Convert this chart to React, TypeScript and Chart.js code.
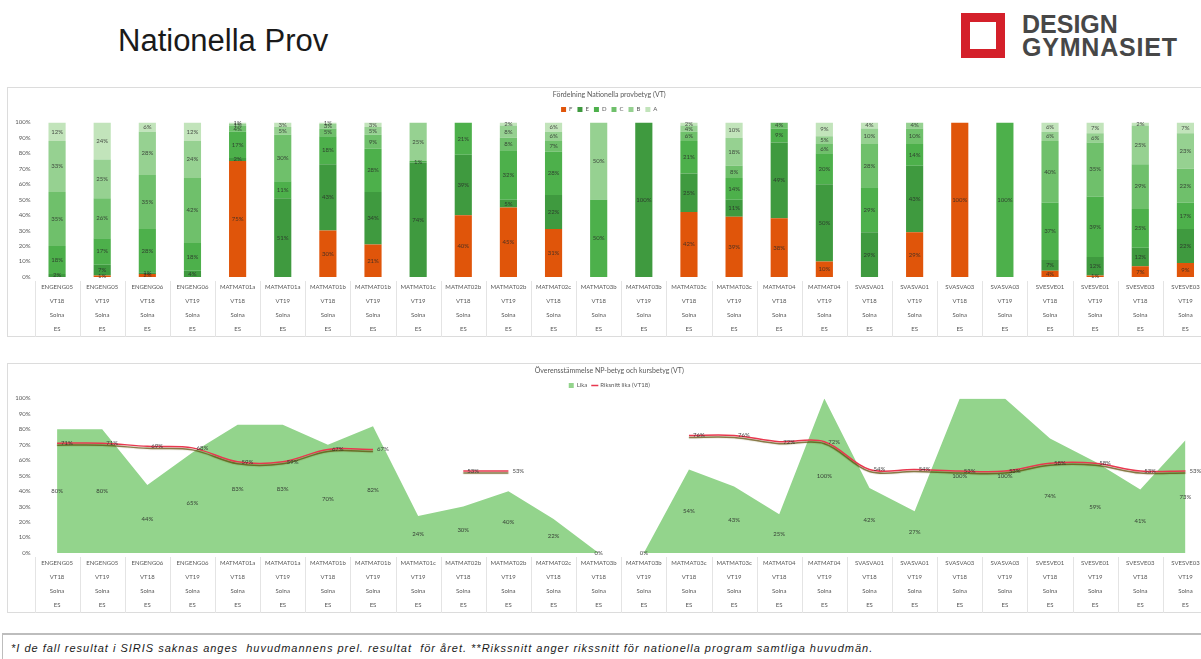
import React, { useEffect, useRef } from "react";
import { Chart, registerables } from "chart.js";

Chart.register(...registerables);

// ---------- data ----------
const COURSES = [
  "ENGENG05", "ENGENG05", "ENGENG06", "ENGENG06", "MATMAT01a", "MATMAT01a",
  "MATMAT01b", "MATMAT01b", "MATMAT01c", "MATMAT02b", "MATMAT02b", "MATMAT02c",
  "MATMAT03b", "MATMAT03b", "MATMAT03c", "MATMAT03c", "MATMAT04", "MATMAT04",
  "SVASVA01", "SVASVA01", "SVASVA03", "SVASVA03", "SVESVE01", "SVESVE01",
  "SVESVE03", "SVESVE03",
];
const TERMS = [
  "VT18", "VT19", "VT18", "VT19", "VT18", "VT19", "VT18", "VT19", "VT19",
  "VT18", "VT19", "VT18", "VT18", "VT19", "VT18", "VT19", "VT18", "VT19",
  "VT18", "VT19", "VT18", "VT19", "VT18", "VT19", "VT18", "VT19",
];
const SCHOOL_ROW = "Solna";
const PROGRAM_ROW = "ES";

const GRADE_NAMES = ["F", "E", "D", "C", "B", "A"];
const GRADE_F = [0, 1, 2, 0, 75, 0, 30, 21, 0, 40, 45, 31, 0, 0, 42, 39, 38, 10, 0, 29, 100, 0, 4, 1, 7, 9];
const GRADE_E = [2, 7, 1, 4, 2, 51, 43, 34, 74, 39, 5, 22, 0, 100, 25, 11, 49, 50, 29, 43, 0, 0, 7, 12, 12, 22];
const GRADE_D = [18, 17, 28, 18, 17, 11, 18, 28, 1, 21, 32, 28, 50, 0, 21, 14, 9, 20, 29, 14, 0, 100, 37, 39, 25, 17];
const GRADE_C = [35, 26, 35, 42, 4, 30, 5, 9, 0, 0, 8, 7, 0, 0, 6, 8, 4, 6, 28, 10, 0, 0, 40, 35, 29, 22];
const GRADE_B = [33, 25, 28, 24, 1, 5, 3, 5, 25, 0, 8, 6, 50, 0, 4, 18, 0, 5, 10, 4, 0, 0, 6, 6, 25, 23];
const GRADE_A = [12, 24, 6, 12, 1, 3, 1, 3, 0, 0, 2, 6, 0, 0, 2, 10, 0, 9, 4, 0, 0, 0, 6, 7, 2, 7];
const GRADE_COLORS = ["#e0550a", "#3f9a3f", "#4db04b", "#6fc06b", "#96d191", "#c2e4bb"];

const LIKA = [80, 80, 44, 65, 83, 83, 70, 82, 24, 30, 40, 22, 0, 0, 54, 43, 25, 100, 42, 27, 100, 100, 74, 59, 41, 73];
const RIKSSNITT = [71, 71, 69, 68, 59, 59, 67, 67, null, 53, 53, null, null, null, 76, 76, 72, 72, 54, 54, 53, 53, 58, 58, 53, 53];

const Y_TICK_STEP = 10;

// ---------- style constants ----------
const CHART_FONT = "Lato, 'Open Sans', sans-serif";
const TEXT_COLOR = "#595959";

const separatorPlugin = {
  id: "separators",
  afterDraw(chart: any) {
    const xs = chart.scales.x;
    const n = chart.data.labels.length;
    const step = xs.width / n;
    const ctx = chart.ctx;
    ctx.save();
    ctx.strokeStyle = "#e4e4e4";
    ctx.lineWidth = 1;
    for (let i = 0; i <= n; i++) {
      const px = Math.round(xs.left + i * step) + 0.5;
      ctx.beginPath();
      ctx.moveTo(px, chart.chartArea.bottom + 4);
      ctx.lineTo(px, chart.height);
      ctx.stroke();
    }
    ctx.restore();
  },
};

const barLabelPlugin = {
  id: "barLabels",
  afterDatasetsDraw(chart: any) {
    const ctx = chart.ctx;
    ctx.save();
    ctx.font = `6px ${CHART_FONT}`;
    ctx.fillStyle = "rgba(40,40,40,0.8)";
    ctx.textAlign = "center";
    ctx.textBaseline = "middle";
    chart.data.datasets.forEach((ds: any, di: number) => {
      const meta = chart.getDatasetMeta(di);
      meta.data.forEach((el: any, i: number) => {
        const v = ds.data[i];
        if (!v) return;
        const p = el.getProps(["x", "y", "base"], true);
        ctx.fillText(v + "%", p.x, (p.y + p.base) / 2);
      });
    });
    ctx.restore();
  },
};

const areaLabelPlugin = {
  id: "areaLabels",
  afterDatasetsDraw(chart: any) {
    const ctx = chart.ctx;
    const ys = chart.scales.y;
    ctx.save();
    ctx.font = `6px ${CHART_FONT}`;
    ctx.fillStyle = "rgba(40,40,40,0.85)";
    ctx.textBaseline = "middle";
    chart.data.datasets.forEach((ds: any, di: number) => {
      const meta = chart.getDatasetMeta(di);
      meta.data.forEach((el: any, i: number) => {
        const v = ds.data[i];
        if (v === null || v === undefined) return;
        if (ds.fill) {
          ctx.textAlign = "center";
          ctx.fillText(v + "%", el.x, ys.getPixelForValue(v / 2));
        } else {
          ctx.textAlign = "left";
          ctx.fillText(v + "%", el.x + 4, el.y);
        }
      });
    });
    ctx.restore();
  },
};

const lineShadowPlugin = {
  id: "lineShadow",
  beforeDatasetDraw(chart: any, args: any) {
    const ds = chart.data.datasets[args.index];
    if (ds.fill) return;
    const ctx = chart.ctx;
    ctx.save();
    ctx.shadowColor = "rgba(90,70,0,0.85)";
    ctx.shadowOffsetY = 2;
    ctx.shadowBlur = 1;
  },
  afterDatasetDraw(chart: any, args: any) {
    const ds = chart.data.datasets[args.index];
    if (ds.fill) return;
    chart.ctx.restore();
  },
};

function categoryLabels() {
  return COURSES.map((c, i) => [c, TERMS[i], SCHOOL_ROW, PROGRAM_ROW]);
}

function commonScales(stacked: boolean) {
  return {
    x: {
      stacked,
      offset: true,
      grid: { display: false, drawTicks: false },
      border: { display: false },
      ticks: {
        autoSkip: false,
        maxRotation: 0,
        minRotation: 0,
        padding: 3,
        color: TEXT_COLOR,
        font: { size: 6, family: CHART_FONT, lineHeight: 2.33 },
      },
      afterFit: (s: any) => {
        s.height = 60;
      },
    },
    y: {
      stacked,
      min: 0,
      max: 100,
      grid: { display: false, drawTicks: false },
      border: { display: false },
      ticks: {
        stepSize: Y_TICK_STEP,
        padding: 4,
        color: TEXT_COLOR,
        font: { size: 6, family: CHART_FONT },
        callback: (v: any) => v + "%",
      },
      afterFit: (s: any) => {
        s.width = 24;
      },
    },
  };
}

function TopChart() {
  const ref = useRef<HTMLCanvasElement | null>(null);
  useEffect(() => {
    const gradeData = [GRADE_F, GRADE_E, GRADE_D, GRADE_C, GRADE_B, GRADE_A];
    const chart = new Chart(ref.current as HTMLCanvasElement, {
      type: "bar",
      data: {
        labels: categoryLabels(),
        datasets: GRADE_NAMES.map((g, k) => ({
          label: g,
          data: gradeData[k],
          backgroundColor: GRADE_COLORS[k],
          borderWidth: 0,
          barPercentage: 0.38,
          categoryPercentage: 1,
        })),
      },
      options: {
        responsive: false,
        animation: false,
        layout: { padding: { top: 2, left: 2.5, right: 0, bottom: 0 } },
        plugins: {
          title: {
            display: true,
            text: "Fördelning Nationella provbetyg (VT)",
            color: TEXT_COLOR,
            font: { size: 7, family: CHART_FONT, weight: "normal" },
            padding: { top: 2, bottom: 2 },
          },
          legend: {
            labels: {
              boxWidth: 5,
              boxHeight: 5,
              padding: 5,
              color: TEXT_COLOR,
              font: { size: 6, family: CHART_FONT },
            },
          },
          tooltip: { enabled: false },
        },
        scales: commonScales(true) as any,
      },
      plugins: [barLabelPlugin, separatorPlugin],
    });
    return () => chart.destroy();
  }, []);
  return <canvas ref={ref} width={1200} height={250} style={{ display: "block", width: 1200, height: 250 }} />;
}

function BottomChart() {
  const ref = useRef<HTMLCanvasElement | null>(null);
  useEffect(() => {
    const chart = new Chart(ref.current as HTMLCanvasElement, {
      type: "line",
      data: {
        labels: categoryLabels(),
        datasets: [
          {
            label: "Riksnitt lika (VT18)",
            data: RIKSSNITT,
            borderColor: "#e8384f",
            backgroundColor: "#e8384f",
            borderWidth: 1.5,
            pointRadius: 0,
            tension: 0.35,
            fill: false,
            spanGaps: false,
            pointStyle: "line",
          },
          {
            label: "Lika",
            data: LIKA,
            borderWidth: 0,
            borderColor: "rgba(0,0,0,0)",
            backgroundColor: "#93d48c",
            pointRadius: 0,
            tension: 0,
            fill: "origin",
            pointStyle: "rect",
          },
        ],
      },
      options: {
        responsive: false,
        animation: false,
        layout: { padding: { top: 2, left: 2.5, right: 0, bottom: 0 } },
        plugins: {
          title: {
            display: true,
            text: "Överensstämmelse NP-betyg och kursbetyg (VT)",
            color: TEXT_COLOR,
            font: { size: 7, family: CHART_FONT, weight: "normal" },
            padding: { top: 2, bottom: 2 },
          },
          legend: {
            reverse: true,
            labels: {
              usePointStyle: true,
              boxWidth: 5,
              boxHeight: 5,
              padding: 5,
              color: TEXT_COLOR,
              font: { size: 6, family: CHART_FONT },
            },
          },
          tooltip: { enabled: false },
        },
        scales: commonScales(false) as any,
      },
      plugins: [areaLabelPlugin, separatorPlugin, lineShadowPlugin],
    });
    return () => chart.destroy();
  }, []);
  return <canvas ref={ref} width={1200} height={250} style={{ display: "block", width: 1200, height: 250 }} />;
}

export default function App() {
  return (
    <div
      style={{
        position: "fixed",
        left: 0,
        top: 0,
        width: 1201,
        height: 659,
        overflow: "hidden",
        background: "#ffffff",
        fontFamily: "'Liberation Sans', Arial, sans-serif",
      }}
    >
      <div style={{ position: "absolute", left: 118, top: 25, fontSize: 31, lineHeight: "31px", color: "#1a1a1a", whiteSpace: "nowrap" }}>
        Nationella Prov
      </div>

      <div
        style={{
          position: "absolute",
          left: 961,
          top: 13,
          width: 44,
          height: 45,
          boxSizing: "border-box",
          border: "9px solid #d4202a",
        }}
      />
      <div style={{ position: "absolute", left: 1022, top: 12, fontSize: 25, lineHeight: "25px", fontWeight: 700, color: "#474747", whiteSpace: "nowrap" }}>
        DESIGN
      </div>
      <div style={{ position: "absolute", left: 1022, top: 35, fontSize: 25, lineHeight: "25px", fontWeight: 700, color: "#474747", letterSpacing: 0.8, whiteSpace: "nowrap" }}>
        GYMNASIET
      </div>

      <div style={{ position: "absolute", left: 7, top: 87, width: 1200, height: 250, boxSizing: "border-box", border: "1px solid #dcdcdc" }} />
      <div style={{ position: "absolute", left: 8, top: 87 }}>
        <TopChart />
      </div>

      <div style={{ position: "absolute", left: 7, top: 363, width: 1200, height: 250, boxSizing: "border-box", border: "1px solid #dcdcdc" }} />
      <div style={{ position: "absolute", left: 8, top: 363 }}>
        <BottomChart />
      </div>

      <div
        style={{
          position: "absolute",
          left: 2,
          top: 633,
          width: 1205,
          height: 30,
          boxSizing: "border-box",
          borderTop: "2px solid #bdbdbd",
          borderLeft: "1px solid #bdbdbd",
        }}
      />
      <div
        style={{
          position: "absolute",
          left: 11,
          top: 642,
          fontSize: 11,
          lineHeight: "12px",
          fontStyle: "italic",
          letterSpacing: 1,
          color: "#1a1a1a",
          whiteSpace: "pre",
        }}
      >
        {"*I de fall resultat i SIRIS saknas anges  huvudmannens prel. resultat  för året. **Rikssnitt anger rikssnitt för nationella program samtliga huvudmän."}
      </div>
    </div>
  );
}
